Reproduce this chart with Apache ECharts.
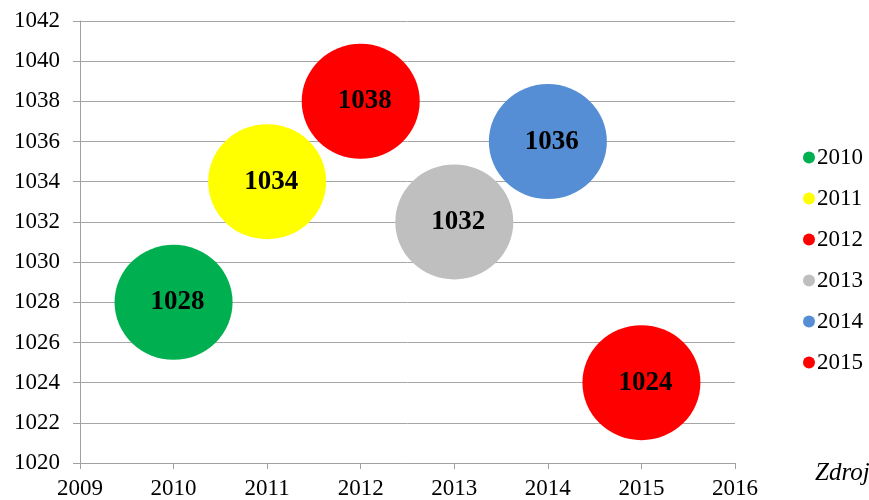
<!DOCTYPE html>
<html>
<head>
<meta charset="utf-8">
<script src="https://cdn.jsdelivr.net/npm/echarts@6/dist/echarts.min.js"></script>
<style>
  html, body { margin: 0; padding: 0; background: #fff; }
  #chart { width: 869px; height: 500px; }
</style>
</head>
<body>
<div id="chart"></div>
<script>
// data
const years = [2010, 2011, 2012, 2013, 2014, 2015];
const values = [1028, 1034, 1038, 1032, 1036, 1024];
const colors = ['#00B050', '#FFFF00', '#FF0000', '#BFBFBF', '#558ED5', '#FF0000'];

let chart = echarts.init(document.getElementById('chart'));

const serif = '"Liberation Serif", "DejaVu Serif", serif';

let series = years.map(function (y, i) {
    return {
        name: String(y),
        type: 'scatter',
        symbolSize: [118, 115],
        itemStyle: { color: colors[i], opacity: 1 },
        label: {
            show: true,
            position: 'inside',
            offset: [4, 0],
            formatter: function (p) { return p.value[1]; },
            color: '#000',
            fontFamily: serif,
            fontWeight: 'bold',
            fontSize: 27
        },
        data: [[y, values[i]]]
    };
});

let option = {
    animation: false,
    color: colors,
    grid: { left: 80, right: 134, top: 21, bottom: 37 },
    legend: {
        orient: 'vertical',
        left: 798,
        top: 141,
        itemGap: 18,
        itemWidth: 12,
        itemHeight: 12,
        icon: 'circle',
        textStyle: { fontFamily: serif, fontSize: 23, color: '#000', padding: [0, 0, 0, -3] },
        data: years.map(String)
    },
    xAxis: {
        type: 'value',
        min: 2009,
        max: 2016,
        interval: 1,
        splitLine: { show: false },
        axisLine: { show: true, lineStyle: { color: '#A0A0A0', width: 1 } },
        axisTick: { show: true, length: 6, lineStyle: { color: '#A0A0A0' } },
        axisLabel: { fontFamily: serif, fontSize: 23, color: '#000', margin: 14,
            formatter: function (v) { return String(v); } }
    },
    yAxis: {
        type: 'value',
        min: 1020,
        max: 1042,
        interval: 2,
        splitLine: { show: true, lineStyle: { color: '#A6A6A6', width: 1 } },
        axisLine: { show: true, lineStyle: { color: '#A0A0A0', width: 1 } },
        axisTick: { show: true, length: 7, lineStyle: { color: '#A0A0A0' } },
        axisLabel: { fontFamily: serif, fontSize: 23, color: '#000', margin: 20,
            formatter: function (v) { return String(v); } }
    },
    graphic: [{
        type: 'text',
        left: 815,
        top: 461,
        style: {
            text: 'Zdroj: vlastní zpracování',
            fontFamily: serif,
            fontStyle: 'italic',
            fontSize: 25,
            fill: '#000'
        }
    }],
    series: series
};

chart.setOption(option);
</script>
</body>
</html>
